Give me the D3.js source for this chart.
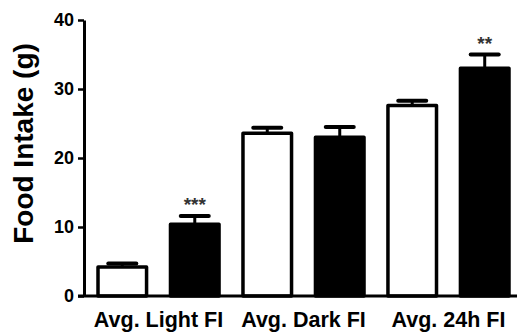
<!DOCTYPE html>
<html>
<head>
<meta charset="utf-8">
<title>Food intake</title>
<script src="https://d3js.org/d3.v7.min.js"></script>
<style>
  body { margin: 0; background: #fff; }
  svg { display: block; font-family: Arial, "Liberation Sans", sans-serif; }
</style>
</head>
<body>
<div id="chart"></div>
<script>
// data (mean, SEM), pairs: control (white) / treated (black)
var groups = ["Avg. Light FI", "Avg. Dark FI", "Avg. 24h FI"];
var bars = ["light_ctl", "light_trt", "dark_ctl", "dark_trt", "day_ctl", "day_trt"];
var means = [4.2, 10.4, 23.6, 23.0, 27.6, 33.0];
var sems = [0.5, 1.2, 0.8, 1.5, 0.7, 2.0];
var filled = [false, true, false, true, false, true];
var stars = ["", "***", "", "", "", "**"];
var yTicks = [0, 10, 20, 30, 40];

const width = 517, height = 333;
const x0 = 84, yBottom = 296, yTop = 20;

const svg = d3.select("#chart").append("svg")
  .attr("width", width)
  .attr("height", height);

const y = d3.scaleLinear().domain([0, 40]).range([yBottom, yTop]);

const x = d3.scaleBand()
  .domain(bars)
  .range([98, 509])
  .paddingInner(0.33)
  .paddingOuter(0);

const cx = d => x(d) + x.bandwidth() / 2;

// bars
svg.append("g").selectAll("rect")
  .data(bars)
  .enter().append("rect")
  .attr("x", d => x(d))
  .attr("y", (d, i) => y(means[i]))
  .attr("width", x.bandwidth())
  .attr("height", (d, i) => y(0) - y(means[i]))
  .attr("fill", (d, i) => filled[i] ? "#000" : "#fff")
  .attr("stroke", "#000")
  .attr("stroke-width", 3.5)
  .attr("stroke-linejoin", "round");

// error bars (upper only)
const err = svg.append("g").selectAll("g")
  .data(bars)
  .enter().append("g");

err.append("line")
  .attr("x1", cx)
  .attr("x2", cx)
  .attr("y1", (d, i) => y(means[i]))
  .attr("y2", (d, i) => y(means[i] + sems[i]))
  .attr("stroke", "#000")
  .attr("stroke-width", 3);

err.append("line")
  .attr("x1", d => cx(d) - 14)
  .attr("x2", d => cx(d) + 14)
  .attr("y1", (d, i) => y(means[i] + sems[i]))
  .attr("y2", (d, i) => y(means[i] + sems[i]))
  .attr("stroke", "#000")
  .attr("stroke-width", 4)
  .attr("stroke-linecap", "round");

// significance stars
svg.append("g").selectAll("text")
  .data(bars)
  .enter().append("text")
  .attr("x", cx)
  .attr("y", (d, i) => y(means[i] + sems[i]) - 5)
  .attr("text-anchor", "middle")
  .attr("font-size", "19px")
  .attr("font-weight", "bold")
  .attr("fill", "#333")
  .text((d, i) => stars[i]);

// y axis
const yAxis = svg.append("g")
  .attr("transform", "translate(" + x0 + ",0)")
  .call(d3.axisLeft(y).tickValues(yTicks).tickSize(6).tickSizeOuter(0).tickPadding(4));

yAxis.select(".domain").attr("stroke-width", 3);
yAxis.selectAll(".tick line").attr("stroke-width", 2.5);
yAxis.selectAll(".tick text")
  .attr("font-size", "18px")
  .attr("font-weight", "bold")
  .attr("font-family", "Arial, 'Liberation Sans', sans-serif")
  .attr("fill", "#000");

// x axis line
svg.append("line")
  .attr("x1", x0 - 6)
  .attr("x2", width)
  .attr("y1", y(0))
  .attr("y2", y(0))
  .attr("stroke", "#000")
  .attr("stroke-width", 3);

// group labels, centred under each pair of bars
svg.append("g").selectAll("text")
  .data(groups)
  .enter().append("text")
  .attr("x", (d, i) => (cx(bars[2 * i]) + cx(bars[2 * i + 1])) / 2)
  .attr("y", 327)
  .attr("text-anchor", "middle")
  .attr("font-size", "21.5px")
  .attr("font-weight", "bold")
  .text(d => d);

// y axis title
svg.append("text")
  .attr("transform", "translate(33,143.5) rotate(-90)")
  .attr("text-anchor", "middle")
  .attr("font-size", "28px")
  .attr("font-weight", "bold")
  .text("Food Intake (g)");
</script>
</body>
</html>
